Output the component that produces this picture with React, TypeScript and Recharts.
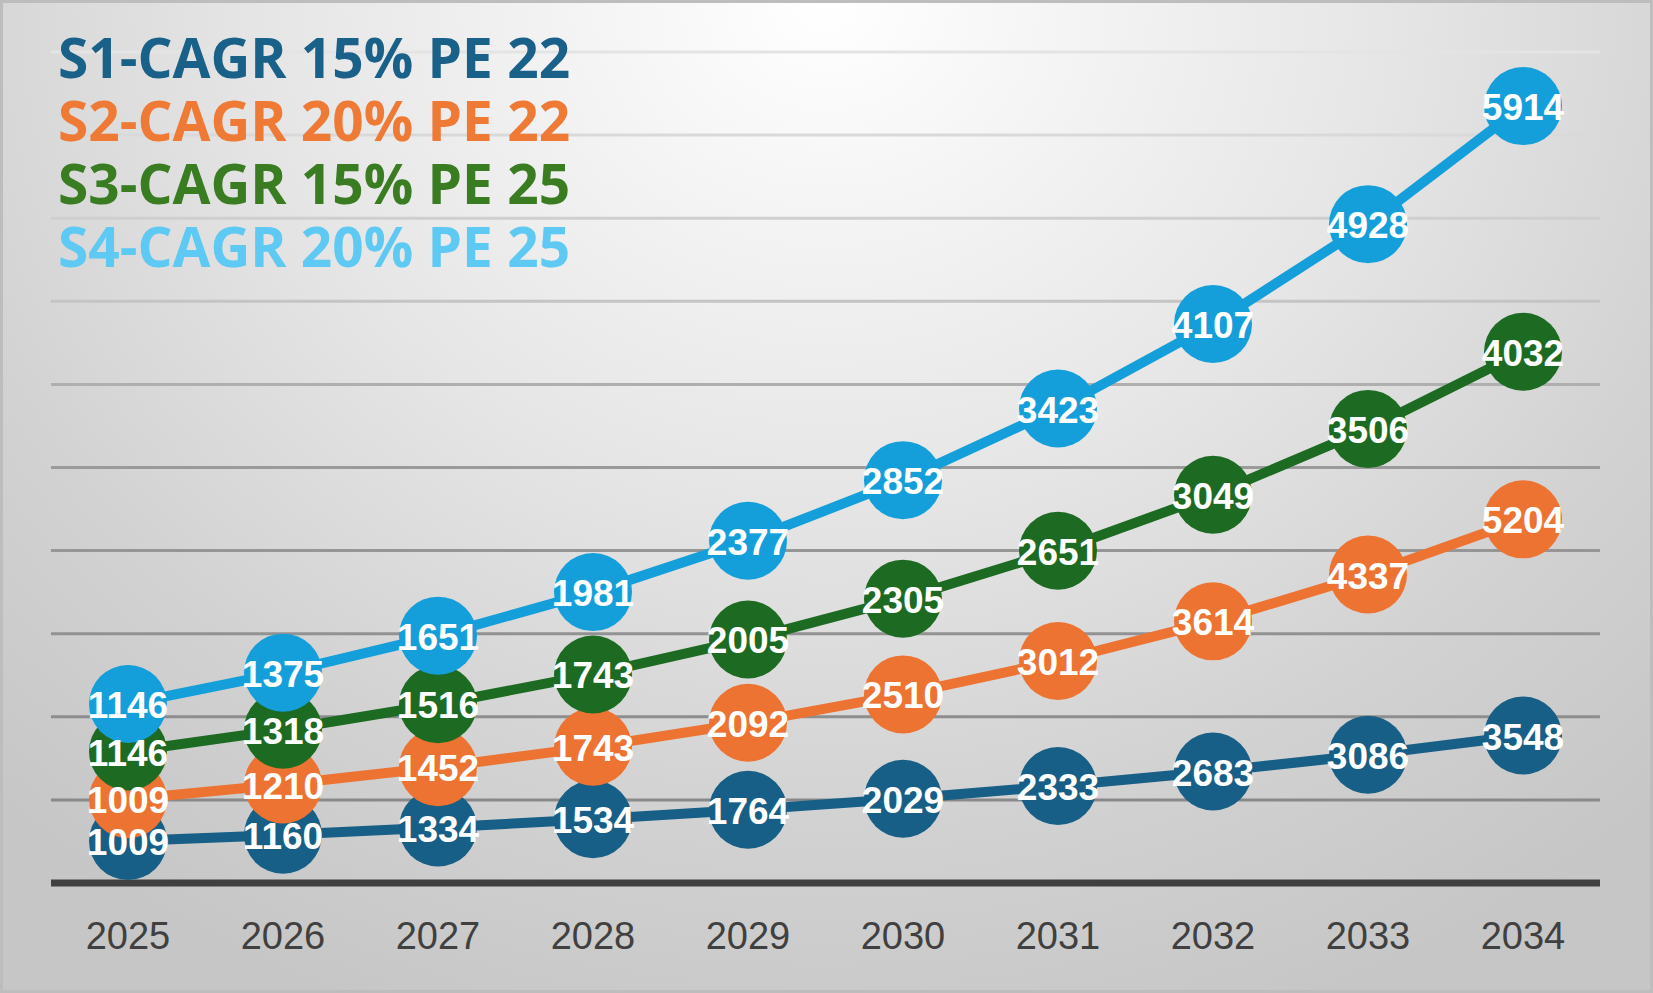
import { AreaChart, Area, XAxis, YAxis, CartesianGrid, Legend } from 'recharts';

const years = ['2025', '2026', '2027', '2028', '2029', '2030', '2031', '2032', '2033', '2034'];
const s1 = [1009, 1160, 1334, 1534, 1764, 2029, 2333, 2683, 3086, 3548];
const s2 = [1009, 1210, 1452, 1743, 2092, 2510, 3012, 3614, 4337, 5204];
const s3 = [1146, 1318, 1516, 1743, 2005, 2305, 2651, 3049, 3506, 4032];
const s4 = [1146, 1375, 1651, 1981, 2377, 2852, 3423, 4107, 4928, 5914];
const yTicks = [0, 2000, 4000, 6000, 8000, 10000, 12000, 14000, 16000, 18000, 20000];

const seriesKeys = ['s1', 's2', 's3', 's4'];
const seriesNames = ['S1-CAGR 15% PE 22', 'S2-CAGR 20% PE 22', 'S3-CAGR 15% PE 25', 'S4-CAGR 20% PE 25'];
const lineColors = ['#175f86', '#ed7332', '#1d6b22', '#159fda'];
const legendColors = ['#1a6189', '#ee7a36', '#3a7c22', '#5ec9f2'];

const data = years.map((year, i) => ({ year, s1: s1[i], s2: s2[i], s3: s3[i], s4: s4[i] }));
// second copy of the keys, stacked separately, only used to put the labels above every circle
const labelData = data.map((d) => ({ ...d, s1_l: d.s1, s2_l: d.s2, s3_l: d.s3, s4_l: d.s4 }));

const makeCircle = (color: string) => (props: any) => {
    const { cx, cy, index } = props;
    if (cx == null || cy == null) return <g key={index} />;
    return <circle key={index} cx={cx} cy={cy} r={39} fill={color} />;
};

const valueLabel = (props: any) => {
    const { cx, cy, index, payload, dataKey } = props;
    if (cx == null || cy == null) return <g key={index} />;
    return (
        <text
            key={index}
            x={cx}
            y={cy}
            dy={14}
            textAnchor="middle"
            fill="#ffffff"
            fontFamily="'Liberation Sans', Arial, sans-serif"
            fontWeight={700}
            fontSize={37}
        >
            {payload[String(dataKey).replace('_l', '')]}
        </text>
    );
};

const LegendBlock = () => (
    <div style={{ fontFamily: "'Open Sans', sans-serif", fontWeight: 700, fontSize: 55, lineHeight: '63px' }}>
        {seriesNames.map((name, i) => (
            <div key={name} style={{ color: legendColors[i], whiteSpace: 'nowrap' }}>{name}</div>
        ))}
    </div>
);

export default function App() {
    return (
        <div
            style={{
                width: 1653,
                height: 993,
                position: 'relative',
                boxSizing: 'border-box',
                border: '3px solid #bdbdbd',
                background: 'radial-gradient(ellipse 75% 110% at 50% 0%, #ffffff 0%, #e6e6e6 45%, #d2d2d2 75%, #c6c6c6 100%)'
            }}
        >
            <style>{'body{margin:0}'}</style>
            <AreaChart
                width={1647}
                height={987}
                data={labelData}
                margin={{ top: 49, right: 50, left: 48, bottom: 0 }}
            >
                <defs>
                    <linearGradient id="gridGrad" gradientUnits="userSpaceOnUse" x1="0" y1="49" x2="0" y2="880">
                        <stop offset="0%" stopColor="#e4e4e4" />
                        <stop offset="30%" stopColor="#c4c4c4" />
                        <stop offset="50%" stopColor="#9a9a9a" />
                        <stop offset="100%" stopColor="#858585" />
                    </linearGradient>
                </defs>
                <CartesianGrid vertical={false} stroke="url(#gridGrad)" strokeWidth={3} />
                <XAxis
                    dataKey="year"
                    height={107}
                    padding={{ left: 77, right: 77 }}
                    axisLine={{ stroke: '#404040', strokeWidth: 7 }}
                    tickLine={false}
                    tickSize={0}
                    tickMargin={39}
                    tick={{ fill: '#404040', fontSize: 38, fontFamily: "'Liberation Sans', Arial, sans-serif" }}
                />
                <YAxis hide domain={[0, 20000]} ticks={yTicks} />
                <Legend
                    layout="vertical"
                    align="center"
                    verticalAlign="middle"
                    wrapperStyle={{ top: 22, left: 55, width: 'auto' }}
                    content={() => <LegendBlock />}
                />
                {seriesKeys.map((key, i) => (
                    <Area
                        key={key}
                        type="linear"
                        dataKey={key}
                        stackId="values"
                        stroke={lineColors[i]}
                        strokeWidth={10}
                        fill="none"
                        fillOpacity={0}
                        dot={makeCircle(lineColors[i])}
                        activeDot={false}
                        isAnimationActive={false}
                    />
                ))}
                {seriesKeys.map((key) => (
                    <Area
                        key={key + '_l'}
                        type="linear"
                        dataKey={key + '_l'}
                        stackId="labels"
                        stroke="none"
                        fill="none"
                        fillOpacity={0}
                        dot={valueLabel}
                        activeDot={false}
                        legendType="none"
                        isAnimationActive={false}
                    />
                ))}
            </AreaChart>
        </div>
    );
}
